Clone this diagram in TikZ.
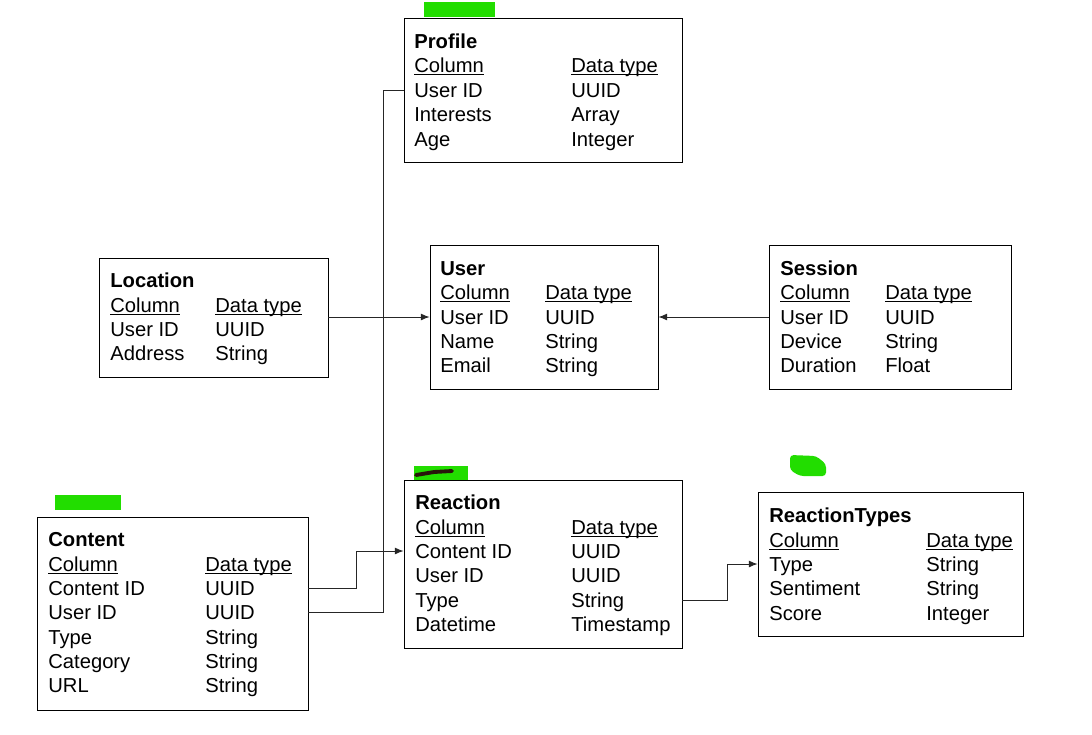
\documentclass[tikz,border=0pt]{standalone}
\usepackage{fontspec}
\setmainfont{Liberation Sans}
\usetikzlibrary{fit,arrows.meta}
\definecolor{hlgreen}{RGB}{34,221,0}
\definecolor{ink}{RGB}{40,22,10}
\newcommand{\hdr}[1]{\setbox0\hbox{#1}\rlap{\rule[-1.6pt]{\wd0}{0.6pt}}\box0}
\tikzset{
  tbl/.style={draw, line width=0.5pt, inner sep=0pt},
  txt/.style={anchor=west, inner sep=0pt, text height=8pt, text depth=0pt,
    font=\fontsize{11.5}{14}\selectfont},
  ttl/.style={txt, font=\fontsize{11.5}{14}\selectfont\bfseries},
  link/.style={draw, line width=0.5pt, black!85},
  arr/.style={link, -{Latex[length=5pt,width=4pt]}},
  hl/.style={fill=hlgreen}
}
\begin{document}
\begin{tikzpicture}[x=0.02cm,y=-0.02cm]
        \useasboundingbox (0,0) rectangle (1092,734);

        % marks
        \fill[hl] (424,2) rectangle (495,17);
        \fill[hl] (414,466) rectangle (468,480);
        \draw[ink, line width=2.2pt, line cap=round] (416,475) -- (434,472) -- (452,471);
        \fill[hl] (55,495) rectangle (121,510);
        \fill[hl, rounded corners=2] (790,455) -- (816,456) -- (826,464) -- (826,476) -- (800,476) -- (790,470) -- cycle;

        % tables
        \node[tbl, fit={(404,18) (682,162)}] (profile) {};
        \node[ttl] (prof) at (414,41) {Profile};
        \node[txt] (profh1) at (414,65) {\hdr{Column}};
        \node[txt] (profh2) at (571,65) {\hdr{Data type}};
        \node[txt] (profuid) at (414,90) {User ID};
        \node[txt] (profuidt) at (571,90) {UUID};
        \node[txt] (profint) at (414,114) {Interests};
        \node[txt] (profintt) at (571,114) {Array};
        \node[txt] (profage) at (414,139) {Age};
        \node[txt] (profaget) at (571,139) {Integer};

        \node[tbl, fit={(99,258) (328,377)}] (location) {};
        \node[ttl] (loc) at (110,280) {Location};
        \node[txt] (loch1) at (110,305) {\hdr{Column}};
        \node[txt] (loch2) at (215,305) {\hdr{Data type}};
        \node[txt] (locuid) at (110,329) {User ID};
        \node[txt] (locuidt) at (215,329) {UUID};
        \node[txt] (locadr) at (110,353) {Address};
        \node[txt] (locadrt) at (215,353) {String};

        \node[tbl, fit={(430,245) (658,389)}] (user) {};
        \node[ttl] (usr) at (440,268) {User};
        \node[txt] (usrh1) at (440,292) {\hdr{Column}};
        \node[txt] (usrh2) at (545,292) {\hdr{Data type}};
        \node[txt] (usruid) at (440,317) {User ID};
        \node[txt] (usruidt) at (545,317) {UUID};
        \node[txt] (usrname) at (440,341) {Name};
        \node[txt] (usrnamet) at (545,341) {String};
        \node[txt] (usrmail) at (440,365) {Email};
        \node[txt] (usrmailt) at (545,365) {String};

        \node[tbl, fit={(769,245) (1011,389)}] (session) {};
        \node[ttl] (ses) at (780,268) {Session};
        \node[txt] (sesh1) at (780,292) {\hdr{Column}};
        \node[txt] (sesh2) at (885,292) {\hdr{Data type}};
        \node[txt] (sesuid) at (780,317) {User ID};
        \node[txt] (sesuidt) at (885,317) {UUID};
        \node[txt] (sesdev) at (780,341) {Device};
        \node[txt] (sesdevt) at (885,341) {String};
        \node[txt] (sesdur) at (780,365) {Duration};
        \node[txt] (sesdurt) at (885,365) {Float};

        \node[tbl, fit={(37,517) (308,710)}] (content) {};
        \node[ttl] (con) at (48,539) {Content};
        \node[txt] (conh1) at (48,564) {\hdr{Column}};
        \node[txt] (conh2) at (205,564) {\hdr{Data type}};
        \node[txt] (concid) at (48,588) {Content ID};
        \node[txt] (concidt) at (205,588) {UUID};
        \node[txt] (conuid) at (48,612) {User ID};
        \node[txt] (conuidt) at (205,612) {UUID};
        \node[txt] (contype) at (48,637) {Type};
        \node[txt] (contypet) at (205,637) {String};
        \node[txt] (concat) at (48,661) {Category};
        \node[txt] (concatt) at (205,661) {String};
        \node[txt] (conurl) at (48,685) {URL};
        \node[txt] (conurlt) at (205,685) {String};

        \node[tbl, fit={(404,480) (682,648)}] (reaction) {};
        \node[ttl] (rea) at (415,502) {Reaction};
        \node[txt] (reah1) at (415,527) {\hdr{Column}};
        \node[txt] (reah2) at (571,527) {\hdr{Data type}};
        \node[txt] (reacid) at (415,551) {Content ID};
        \node[txt] (reacidt) at (571,551) {UUID};
        \node[txt] (reauid) at (415,575) {User ID};
        \node[txt] (reauidt) at (571,575) {UUID};
        \node[txt] (reatype) at (415,600) {Type};
        \node[txt] (reatypet) at (571,600) {String};
        \node[txt] (readt) at (415,624) {Datetime};
        \node[txt] (readtt) at (571,624) {Timestamp};

        \node[tbl, fit={(758,492) (1023,636)}] (rtypes) {};
        \node[ttl] (rt) at (769,515) {ReactionTypes};
        \node[txt] (rth1) at (769,540) {\hdr{Column}};
        \node[txt] (rth2) at (926,540) {\hdr{Data type}};
        \node[txt] (rttype) at (769,564) {Type};
        \node[txt] (rttypet) at (926,564) {String};
        \node[txt] (rtsent) at (769,588) {Sentiment};
        \node[txt] (rtsentt) at (926,588) {String};
        \node[txt] (rtscore) at (769,613) {Score};
        \node[txt] (rtscoret) at (926,613) {Integer};

        % links
        \coordinate (bus) at (383,0);
        \draw[link] (content.east |- conuid) -| (bus |- profuid) -- (profile.west |- profuid);
        \draw[arr] (location.east |- usruid) -- (user.west |- usruid);
        \draw[arr] (session.west |- usruid) -- (user.east |- usruid);
        \draw[arr] (content.east |- concid) -- ++(48,0) |- (reaction.west |- reacid);
        \draw[arr] (reaction.east |- reatype) -- ++(45,0) |- (rtypes.west |- rttype);
    \end{tikzpicture}
\end{document}
